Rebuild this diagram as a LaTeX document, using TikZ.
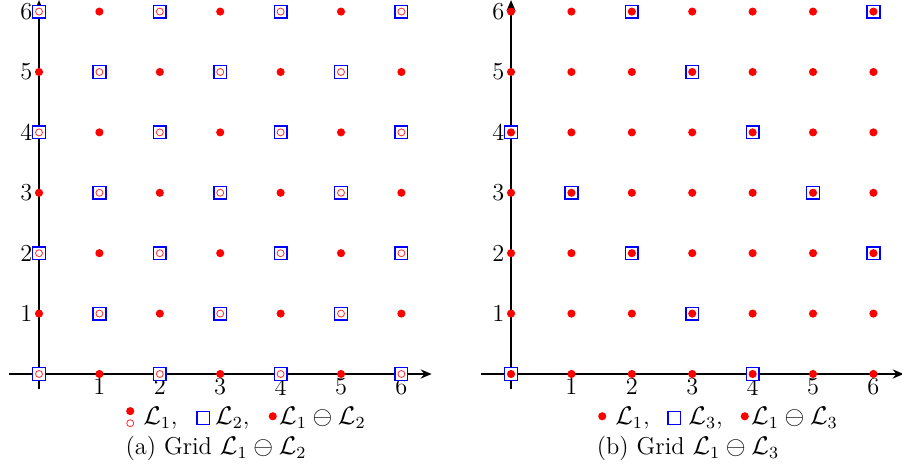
\documentclass[tikz,border=0pt]{standalone}
\usepackage{amsmath}
\usetikzlibrary{arrows.meta,positioning}

\begin{document}
\begin{tikzpicture}[
  every node/.style={font=\fontsize{11.5}{13.5}\selectfont},
  axis/.style={draw=black, line width=0.9pt, -{Stealth[length=1.8mm,width=1.5mm]}},
  dotmark/.style={circle, fill=red, inner sep=0pt, minimum size=1.35mm},
  ringmark/.style={circle, draw=red!80, line width=0.4pt, inner sep=0pt, minimum size=1.15mm},
  sqmark/.style={rectangle, draw=blue, fill=white, line width=0.7pt, inner sep=0pt, minimum size=2.1mm},
  tick/.style={inner sep=2pt},
  legtext/.style={inner sep=0pt, anchor=west}
]
\useasboundingbox (-0.646,-1.573) rectangle (14.288,6.192);

% Left panel: L1 with L2 marked
\coordinate (axl) at (-0.5,0);
\coordinate (axr) at (6.5,0);
\coordinate (ayb) at (0,-0.25);
\coordinate (ayt) at (0,6.19);
\draw[axis] (axl) -- (axr);
\draw[axis] (ayb) -- (ayt);

\foreach \k in {1,...,6}{
  \node[tick, below] (ax\k) at (\k,0) {\k};
  \node[tick, left, inner sep=3pt] (ay\k) at (0,\k) {\k};
}

\foreach \i in {0,...,6}{
  \foreach \j in {0,...,6}{
    \pgfmathtruncatemacro{\m}{mod(\i+\j,2)}
    \ifnum\m=0
      \node[sqmark] (a-\i-\j) at (\i,\j) {};
      \node[ringmark] at (a-\i-\j) {};
    \else
      \node[dotmark] (a-\i-\j) at (\i,\j) {};
    \fi
  }
}

\node[legtext] (lega1) at (1.72,-0.73) {$\mathcal{L}_1$,};
\node[dotmark] at ([xshift=-2.1mm,yshift=1.15mm]lega1.west) {};
\node[ringmark] at ([xshift=-2.1mm,yshift=-0.85mm]lega1.west) {};
\node[sqmark] at (2.72,-0.73) {};
\node[legtext] (lega2) at (2.91,-0.73) {$\mathcal{L}_2$,};
\node[dotmark] at (3.87,-0.70) {};
\node[legtext] (lega3) at (3.97,-0.73) {$\mathcal{L}_1 \ominus \mathcal{L}_2$};
\node (capa) at (2.93,-1.24) {(a) Grid $\mathcal{L}_1 \ominus \mathcal{L}_2$};

% Right panel: L1 with L3 marked
\begin{scope}[xshift=7.815cm]
  \coordinate (bxl) at (-0.5,0);
  \coordinate (bxr) at (6.5,0);
  \coordinate (byb) at (0,-0.25);
  \coordinate (byt) at (0,6.19);
  \draw[axis] (bxl) -- (bxr);
  \draw[axis] (byb) -- (byt);

  \foreach \k in {1,...,6}{
    \node[tick, below] (bx\k) at (\k,0) {\k};
    \node[tick, left, inner sep=3pt] (by\k) at (0,\k) {\k};
  }

  \foreach \i in {0,...,6}{
    \foreach \j in {0,...,6}{
      \pgfmathtruncatemacro{\m}{mod(\i+\j,4)}
      \ifnum\m=0
        \node[sqmark] (b-\i-\j) at (\i,\j) {};
      \fi
      \node[dotmark] at (\i,\j) {};
    }
  }

  \node[legtext] (legb1) at (1.72,-0.73) {$\mathcal{L}_1$,};
  \node[dotmark] at ([xshift=-2.1mm,yshift=0.3mm]legb1.west) {};
  \node[sqmark] at (2.70,-0.73) {};
  \node[legtext] (legb2) at (2.93,-0.73) {$\mathcal{L}_3$,};
  \node[dotmark] at (3.87,-0.70) {};
  \node[legtext] (legb3) at (3.97,-0.73) {$\mathcal{L}_1 \ominus \mathcal{L}_3$};
  \node (capb) at (2.93,-1.24) {(b) Grid $\mathcal{L}_1 \ominus \mathcal{L}_3$};
\end{scope}

\end{tikzpicture}
\end{document}
